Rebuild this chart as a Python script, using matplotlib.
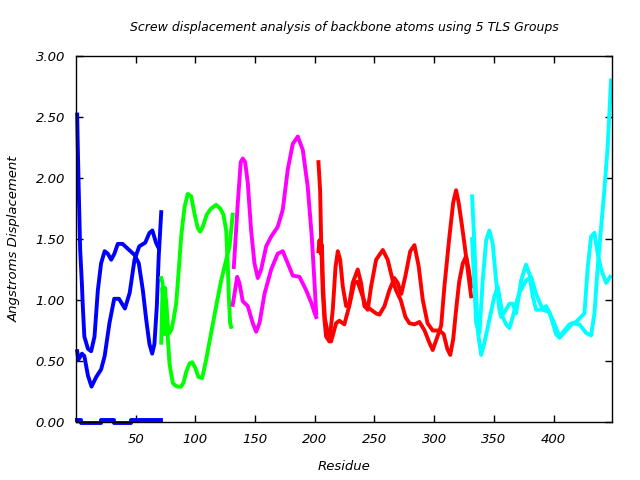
import matplotlib
matplotlib.use("Agg")
import matplotlib.pyplot as plt

# ---- data (residue, screw displacement) ----
# group 1 (blue)
blue_a_x = [1, 1.5, 2.3, 3.5, 4.9, 5.7, 7, 10, 12.7, 15.5, 18.3, 21, 24, 26.6, 29.5, 32.2, 35, 39, 43.4, 49, 52.6, 56, 58.8, 61.5, 63.8, 65.7, 67.7, 69.3, 71.4]
blue_a_y = [2.52, 2.26, 1.90, 1.41, 1.14, 0.95, 0.70, 0.60, 0.58, 0.70, 1.08, 1.30, 1.40, 1.38, 1.33, 1.38, 1.46, 1.46, 1.42, 1.37, 1.30, 1.08, 0.84, 0.64, 0.56, 0.64, 0.95, 1.36, 1.72]
blue_b_x = [1, 2, 5, 7, 10, 13, 17, 21, 24, 28, 32, 36, 41, 45, 49, 53, 58, 61.5, 64, 67, 69]
blue_b_y = [0.58, 0.51, 0.56, 0.54, 0.38, 0.29, 0.37, 0.43, 0.54, 0.81, 1.01, 1.01, 0.93, 1.06, 1.33, 1.44, 1.47, 1.55, 1.57, 1.47, 1.43]
blue_c_x = [1, 4.5, 21, 32, 46, 71]
blue_c_y = [0.015, -0.005, 0.015, -0.005, 0.015, 0.015]

# group 2 (green)
green_a_x = [71.4, 72.5, 73.5, 74.5, 75.5, 76.9, 78.3, 80, 81.7, 83.9, 86.1, 88.1, 90.9, 93.6, 96.5, 99.2, 102, 104, 106.2, 109.5, 113.2, 117.4, 120.8, 123.5, 125.8, 127.1, 128, 129.1, 130]
green_a_y = [1.18, 1.14, 0.80, 1.10, 0.97, 0.79, 0.73, 0.76, 0.84, 0.97, 1.25, 1.52, 1.76, 1.87, 1.85, 1.71, 1.59, 1.56, 1.60, 1.70, 1.75, 1.78, 1.75, 1.70, 1.57, 1.30, 1.03, 0.81, 0.78]
green_b_x = [71.4, 72.5, 73.5, 74.5, 75.5, 76.5, 78.3, 80, 81.1, 83, 85.3, 88, 90, 92.3, 95.1, 97.3, 100.1, 102.5, 105.7, 109, 113.2, 117.4, 121.6, 125.8, 128.6, 131.3]
green_b_y = [0.65, 1.10, 0.95, 0.72, 1.00, 0.75, 0.48, 0.38, 0.32, 0.30, 0.29, 0.29, 0.32, 0.41, 0.48, 0.49, 0.44, 0.37, 0.36, 0.51, 0.73, 0.95, 1.16, 1.33, 1.44, 1.70]

# group 3 (magenta)
magenta_a_x = [132.2, 135.5, 138, 139.7, 141.7, 143.9, 146.7, 149.5, 152.3, 155.1, 159.3, 163.5, 169, 173.2, 177.4, 181.6, 185.8, 190, 194.1, 197.5, 199.7, 201.2]
magenta_a_y = [1.27, 1.79, 2.13, 2.16, 2.13, 1.96, 1.57, 1.30, 1.18, 1.25, 1.44, 1.52, 1.60, 1.74, 2.07, 2.28, 2.34, 2.23, 1.93, 1.52, 1.16, 0.89]
magenta_b_x = [131.3, 135, 136.9, 139.7, 143.9, 148.1, 150.9, 153.7, 157.9, 163.5, 169, 173.2, 177.4, 181.6, 187.2, 192.8, 197, 199.7, 201.2]
magenta_b_y = [0.96, 1.19, 1.14, 0.99, 0.95, 0.81, 0.74, 0.81, 1.05, 1.25, 1.38, 1.40, 1.30, 1.20, 1.19, 1.08, 0.98, 0.90, 0.86]

# group 4 (red)
red_a_x = [203.1, 204.5, 205.4, 206.7, 208.1, 209.5, 212.3, 215.1, 217.4, 219.3, 221.3, 223.5, 226.3, 229, 231.8, 236, 238.8, 241.6, 244.4, 247.2, 251.4, 257, 261.1, 265.3, 268.1, 272, 276, 279.3, 283.5, 287.7, 292, 296, 298.8, 301.7, 303.5, 305.9, 308.6, 312.8, 316, 318.4, 320.5, 322.6, 325.4, 328.1, 331]
red_a_y = [2.13, 1.90, 1.47, 1.06, 0.84, 0.70, 0.66, 0.92, 1.27, 1.40, 1.33, 1.11, 0.95, 0.97, 1.14, 1.25, 1.14, 0.95, 0.92, 1.11, 1.33, 1.41, 1.33, 1.16, 1.08, 1.00, 0.86, 0.81, 0.80, 0.82, 0.75, 0.65, 0.59, 0.67, 0.72, 0.79, 1.11, 1.52, 1.80, 1.90, 1.80, 1.66, 1.46, 1.25, 1.03]
red_b_x = [203.1, 204, 205, 206, 207, 208.5, 210.9, 213.7, 217.9, 220.6, 224.8, 228.9, 233.1, 235.9, 240.1, 243, 247.2, 251.4, 254.2, 258.4, 262.5, 266.7, 269.5, 272.5, 276, 280, 283.5, 287, 290.5, 294.5, 298.8, 304.4, 308, 311, 313.5, 316, 318.4, 321, 324, 326.8, 329, 331]
red_b_y = [1.40, 1.49, 1.38, 1.45, 1.10, 0.85, 0.73, 0.66, 0.81, 0.83, 0.80, 0.95, 1.14, 1.15, 1.03, 0.95, 0.92, 0.89, 0.88, 0.95, 1.08, 1.18, 1.14, 1.05, 1.20, 1.40, 1.45, 1.28, 1.00, 0.81, 0.75, 0.75, 0.72, 0.60, 0.55, 0.68, 0.92, 1.15, 1.30, 1.36, 1.25, 1.11]

# group 5 (cyan)
cyan_a_x = [331.8, 333.8, 335.2, 336.5, 339.4, 342.1, 346.3, 350.5, 353.3, 356.1, 357.5, 360.3, 363.1, 365.8, 368.7, 371.4, 377, 381.2, 385.4, 391, 396.6, 402.2, 405, 410.6, 416.1, 421.7, 427.3, 431.5, 434.3, 437, 439.9, 442.6, 445.4, 448.2]
cyan_a_y = [1.85, 1.44, 1.03, 0.75, 0.55, 0.65, 0.84, 1.03, 1.11, 0.95, 0.86, 0.80, 0.77, 0.86, 0.97, 1.06, 1.16, 1.19, 1.05, 0.92, 0.90, 0.72, 0.69, 0.75, 0.81, 0.80, 0.73, 0.71, 0.89, 1.27, 1.60, 1.90, 2.26, 2.80]
cyan_b_x = [331.8, 335.2, 338, 340.7, 343.6, 346.3, 349.1, 351.9, 354.7, 356.1, 358.9, 363.1, 365.8, 368.7, 372.9, 377, 379.9, 382.6, 385.4, 389.6, 393.8, 399.3, 405, 413.3, 418.9, 425.9, 428.7, 431.5, 434.3, 437, 439.9, 444.1, 447.4]
cyan_b_y = [1.50, 0.81, 0.73, 1.16, 1.49, 1.57, 1.46, 1.16, 0.92, 0.86, 0.90, 0.97, 0.97, 0.89, 1.16, 1.29, 1.21, 1.03, 0.92, 0.92, 0.95, 0.84, 0.70, 0.80, 0.82, 0.89, 1.27, 1.52, 1.55, 1.38, 1.25, 1.14, 1.19]

x_ticks = [50, 100, 150, 200, 250, 300, 350, 400]
y_ticks = [0.0, 0.5, 1.0, 1.5, 2.0, 2.5, 3.0]

series = [
    (blue_a_x, blue_a_y, '#0000ff'),
    (blue_b_x, blue_b_y, '#0000ff'),
    (green_a_x, green_a_y, '#00ff00'),
    (green_b_x, green_b_y, '#00ff00'),
    (magenta_a_x, magenta_a_y, '#ff00ff'),
    (magenta_b_x, magenta_b_y, '#ff00ff'),
    (red_a_x, red_a_y, '#ff0000'),
    (red_b_x, red_b_y, '#ff0000'),
    (cyan_a_x, cyan_a_y, '#00ffff'),
    (cyan_b_x, cyan_b_y, '#00ffff'),
]

fig = plt.figure(figsize=(6.4, 4.8), dpi=100)
ax = fig.add_axes([76/640, 1-422/480, (612-76)/640, (422-56)/480])

for xs, ys, col in series:
    ax.plot(xs, ys, color=col, lw=2.8, solid_joinstyle='round', clip_on=False)
ax.plot(blue_c_x, blue_c_y, color='#0000ff', lw=2.8, drawstyle='steps-post', clip_on=False)

ax.set_xlim(0, 449)
ax.set_ylim(0, 3)
ax.set_xticks(x_ticks)
ax.set_yticks(y_ticks)
ax.set_yticklabels(['%.2f' % v for v in y_ticks])
ax.tick_params(direction='in', length=5, width=1, top=True, right=True, labelsize=9.5, pad=8)
for lab in ax.get_xticklabels() + ax.get_yticklabels():
    lab.set_fontstyle('italic')
for sp in ax.spines.values():
    sp.set_linewidth(1)

fig.text(344/640, 1-27/480, 'Screw displacement analysis of backbone atoms using 5 TLS Groups',
         ha='center', va='center', fontsize=9, style='italic')
fig.text(344/640, 1-467/480, 'Residue', ha='center', va='center', fontsize=9.5, style='italic')
fig.text(14/640, 1-239/480, 'Angstroms Displacement', ha='center', va='center', fontsize=9.5,
         style='italic', rotation=90)

fig.savefig('out.png', dpi=100)
